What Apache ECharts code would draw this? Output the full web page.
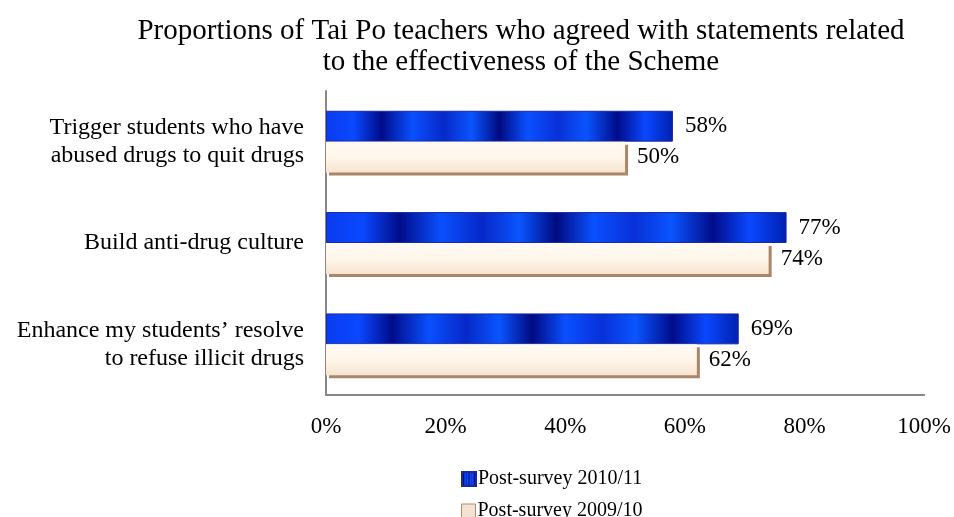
<!DOCTYPE html>
<html><head><meta charset="utf-8">
<script src="https://cdn.jsdelivr.net/npm/echarts@6/dist/echarts.min.js"></script>
<style>html,body{margin:0;padding:0;background:#fff}#c{width:954px;height:517px}</style>
</head><body><div id="c"></div>
<script>
var titleText = 'Proportions of Tai Po teachers who agreed with statements related\nto the effectiveness of the Scheme';
var categories = ['Trigger students who have\nabused drugs to quit drugs', 'Build anti-drug culture', 'Enhance my students\u2019 resolve\nto refuse illicit drugs'];
var seriesNames = ['Post-survey 2010/11', 'Post-survey 2009/10'];
var values2011 = [58, 77, 69];
var values2010 = [50, 74, 62];
var xTicks = [0, 20, 40, 60, 80, 100];

var font = '"Liberation Serif", "Times New Roman", serif';
var blueFill = {
  type: 'linear', x: 0, y: 0, x2: 1, y2: 0,
  colorStops: [
    {offset: 0, color: '#0a3cf0'}, {offset: 0.08, color: '#0a48ff'},
    {offset: 0.16, color: '#000c8a'}, {offset: 0.25, color: '#0a50ff'},
    {offset: 0.34, color: '#0628c8'}, {offset: 0.42, color: '#0a55ff'},
    {offset: 0.5, color: '#000a80'}, {offset: 0.58, color: '#0a50ff'},
    {offset: 0.67, color: '#0830d8'}, {offset: 0.75, color: '#0a55ff'},
    {offset: 0.84, color: '#000c8a'}, {offset: 0.92, color: '#0a48ff'},
    {offset: 1, color: '#0020b0'}
  ]
};
var creamFill = {
  type: 'linear', x: 0, y: 0, x2: 0, y2: 1,
  colorStops: [
    {offset: 0, color: '#fefaf4'}, {offset: 0.5, color: '#fff6ea'},
    {offset: 1, color: '#f6e4d0'}
  ]
};
var legendText = {fontFamily: font, fontSize: 20, color: '#000', padding: [0, 0, 0, -3]};

var chart = echarts.init(document.getElementById('c'));
chart.setOption({
  animation: false,
  title: {
    text: titleText, left: 516, top: 11, textAlign: 'center',
    textStyle: {fontFamily: font, fontSize: 29, fontWeight: 'normal', color: '#000', lineHeight: 31}
  },
  legend: [
    {left: 461, top: 469, padding: 0, itemWidth: 14, itemHeight: 14, icon: 'rect',
     textStyle: legendText, data: [seriesNames[0]]},
    {left: 461, top: 501, padding: 0, itemWidth: 14, itemHeight: 14, icon: 'rect',
     itemStyle: {color: '#f3e2cf', borderColor: '#b08e72', borderWidth: 1},
     textStyle: legendText, data: [seriesNames[1]]}
  ],
  grid: {left: 326, right: 28, top: 91, bottom: 122, containLabel: false},
  xAxis: {
    type: 'value', min: 0, max: 100, interval: 20,
    axisLine: {show: true, lineStyle: {color: '#888', width: 2}},
    axisTick: {show: false}, splitLine: {show: false},
    axisLabel: {formatter: '{value}%', fontFamily: font, fontSize: 23, color: '#000', margin: 20}
  },
  yAxis: {
    type: 'category', data: categories, inverse: true,
    axisLine: {show: true, lineStyle: {color: '#888', width: 2}},
    axisTick: {show: false},
    axisLabel: {fontFamily: font, fontSize: 24, color: '#000', margin: 22, lineHeight: 28, align: 'right',
      padding: [4, 0, 0, 0]}
  },
  series: [
    {
      name: seriesNames[0], type: 'bar', data: values2011,
      barGap: '0%', barCategoryGap: '39%',
      itemStyle: {color: blueFill, borderColor: '#1a2a9c', borderWidth: 1},
      label: {show: true, position: 'right', distance: 12, formatter: '{c}%', fontFamily: font, fontSize: 23, color: '#000'}
    },
    {
      name: seriesNames[1], type: 'bar', data: values2010,
      barGap: '0%', barCategoryGap: '39%',
      itemStyle: {color: creamFill, borderColor: '#a8866a', borderWidth: 0,
        shadowColor: '#a8866a', shadowOffsetX: 3, shadowOffsetY: 3, shadowBlur: 0},
      label: {show: true, position: 'right', distance: 12, formatter: '{c}%', fontFamily: font, fontSize: 23, color: '#000'}
    }
  ]
});
</script></body></html>
